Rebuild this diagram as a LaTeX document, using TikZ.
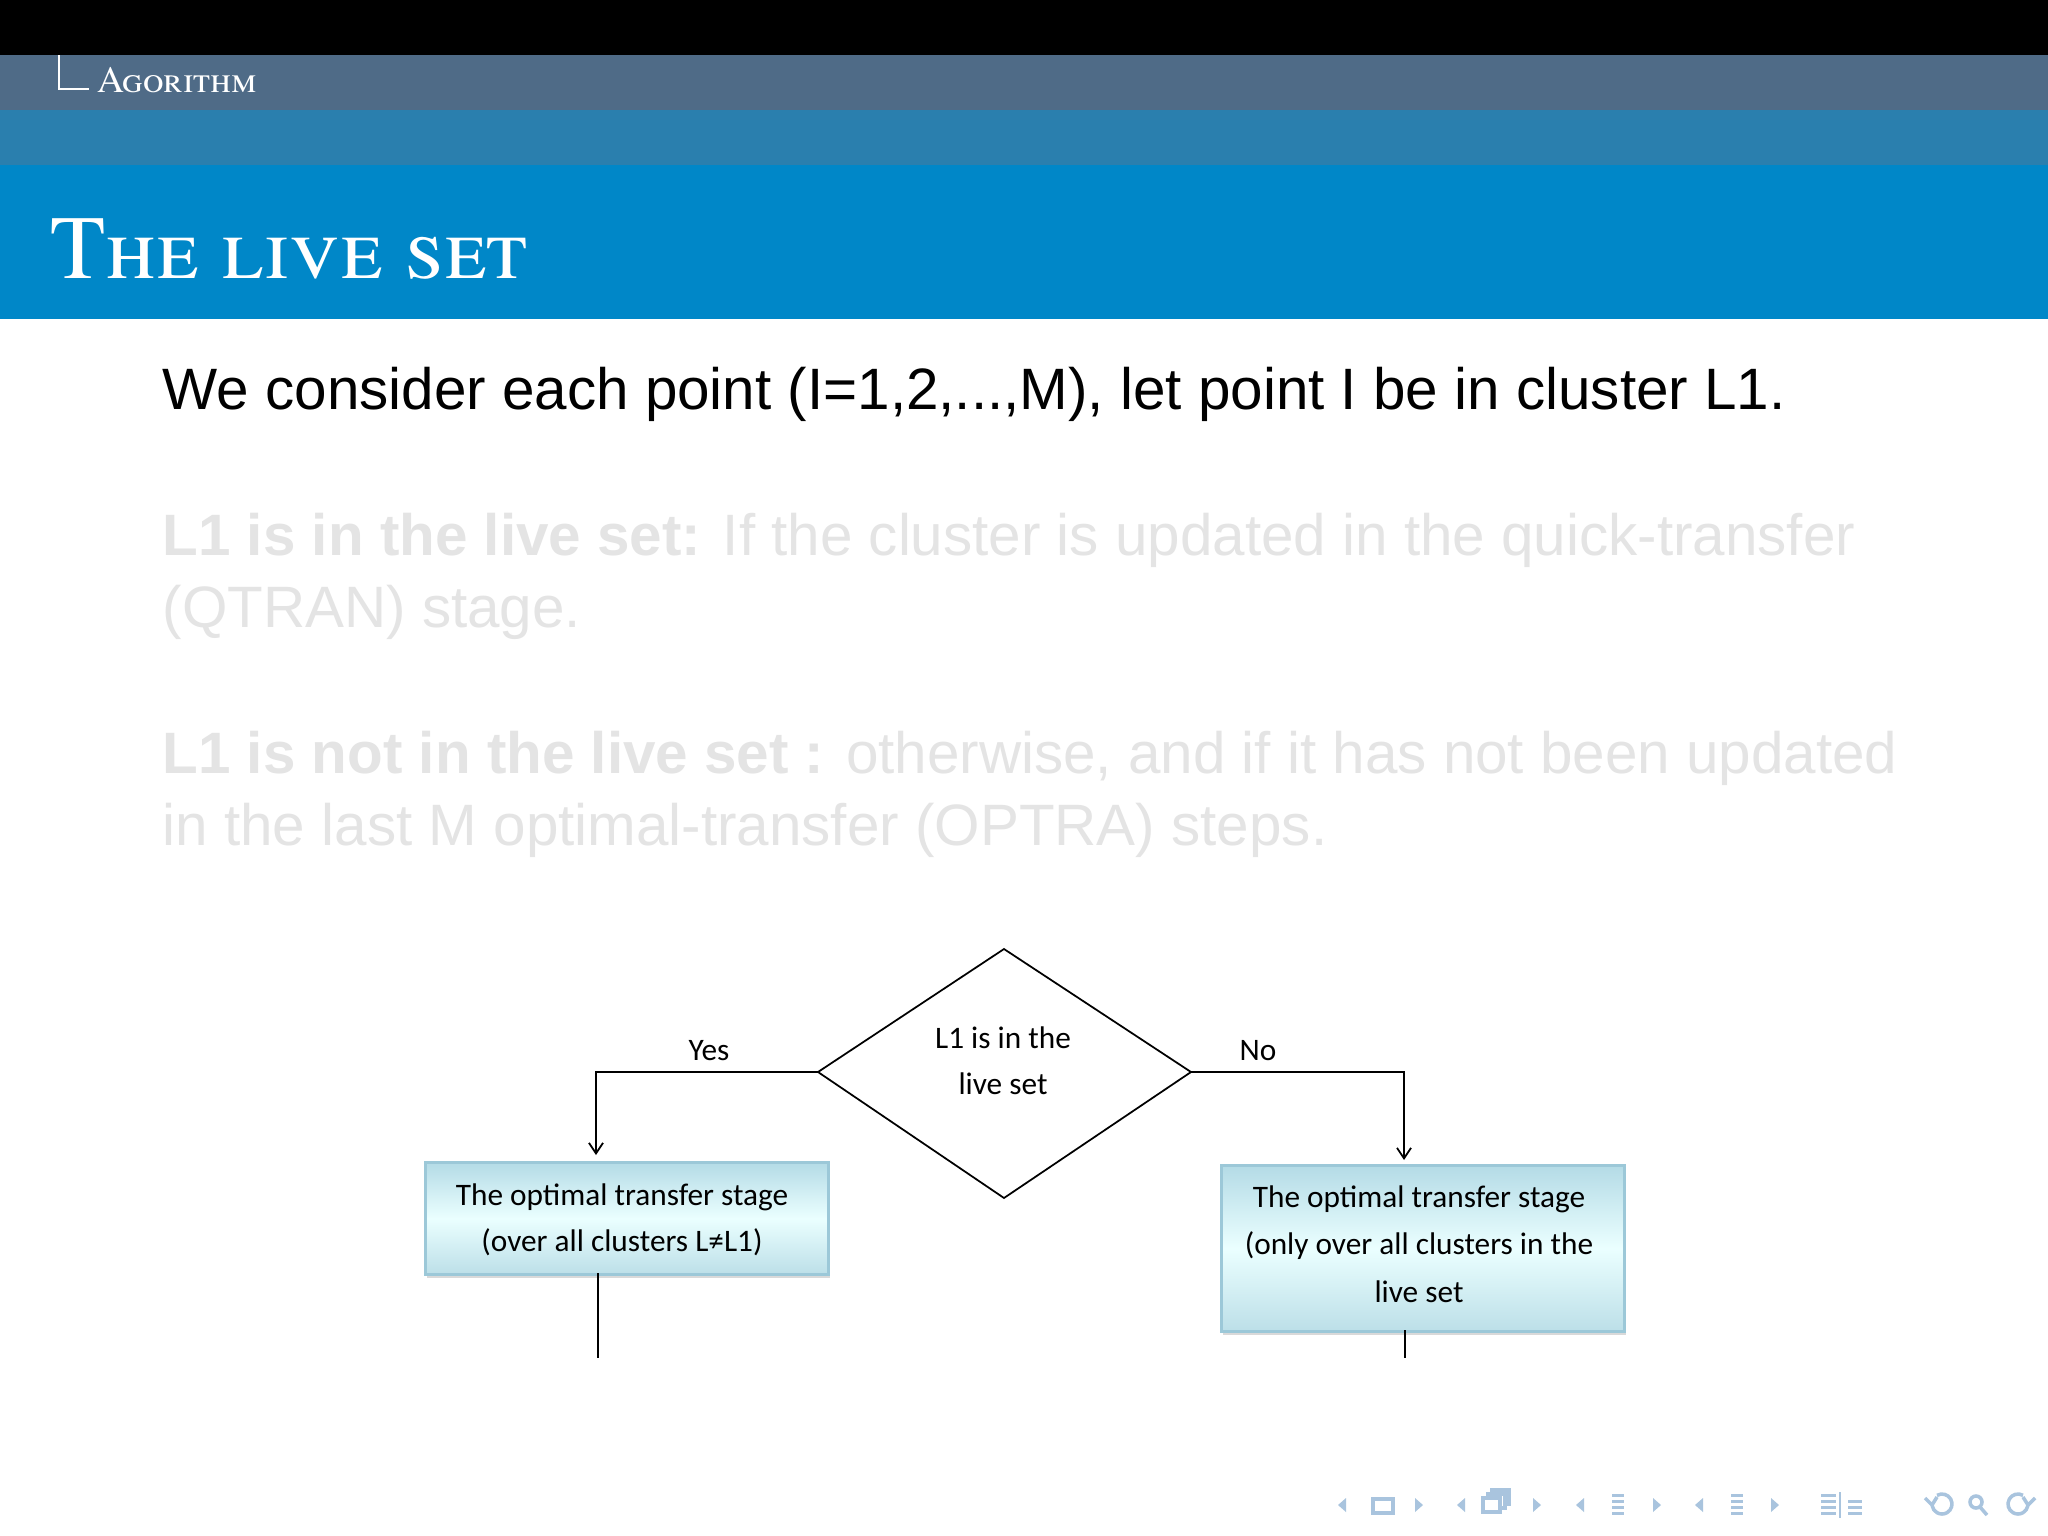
\documentclass[tikz,border=0pt]{standalone}
\usepackage{fontspec}
\setmainfont{TeX Gyre Termes}
\newfontfamily\bodyfont{Liberation Sans}
\newfontfamily\calib{Carlito}
\usetikzlibrary{shapes.geometric,arrows.meta}
\definecolor{barblack}{HTML}{000000}
\definecolor{bargray}{HTML}{4F6B87}
\definecolor{barmid}{HTML}{2A7FAE}
\definecolor{bartitle}{HTML}{0087C8}
\definecolor{fadetxt}{HTML}{E4E4E4}
\definecolor{navblue}{HTML}{A9C4DE}
\definecolor{boxtop}{HTML}{B4DBE6}
\definecolor{boxbot}{HTML}{BCDFE8}
\definecolor{boxedge}{HTML}{9CC8D8}
\tikzset{
  procbox/.style={draw=boxedge, line width=0.8pt, top color=boxtop, bottom color=boxbot, middle color=white!92!cyan},
  lbl/.style={font=\calib\fontsize{8.9}{12}\selectfont, inner sep=0},
  conn/.style={draw=black, line width=0.5pt},
  arr/.style={conn, -{Straight Barb[length=3pt,width=4pt]}},
  navi/.style={fill=navblue, draw=none},
  navline/.style={draw=navblue, line width=1pt, fill=none},
}
\begin{document}
\begin{tikzpicture}[x=0.01cm,y=-0.01cm]
\useasboundingbox (0,0) rectangle (2048,1536);
\fill[white] (0,0) rectangle (2048,1536);
\fill[barblack] (0,0) rectangle (2048,55);
\fill[bargray] (0,55) rectangle (2048,110);
\fill[barmid] (0,110) rectangle (2048,165);
\fill[bartitle] (0,165) rectangle (2048,319);
\draw[white, line width=0.6pt] (59,55) -- (59,89) -- (89,89);
\node[anchor=base west, text=white, inner sep=0, font=\fontsize{10.6}{12}\selectfont\scshape] (sec) at (97,92) {Agorithm};
\node[anchor=base west, text=white, inner sep=0, font=\fontsize{25.7}{28}\selectfont\scshape] (title) at (50,278) {The live set};
\node[anchor=base west, inner sep=0, font=\bodyfont\fontsize{16.6}{20}\selectfont] (l0) at (162,409) {We consider each point (I=1,2,...,M), let point I be in cluster L1.};
\node[anchor=base west, inner sep=0, text=fadetxt, font=\bodyfont\fontsize{16.6}{20}\selectfont] (l1) at (162,555) {\textbf{L1 is in the live set:} If the cluster is updated in the quick-transfer};
\node[anchor=base west, inner sep=0, text=fadetxt, font=\bodyfont\fontsize{16.6}{20}\selectfont] (l2) at (162,627) {(QTRAN) stage.};
\node[anchor=base west, inner sep=0, text=fadetxt, font=\bodyfont\fontsize{16.6}{20}\selectfont] (l3) at (162,773) {\textbf{L1 is not in the live set :} otherwise, and if it has not been updated};
\node[anchor=base west, inner sep=0, text=fadetxt, font=\bodyfont\fontsize{16.6}{20}\selectfont] (l4) at (162,845) {in the last M optimal-transfer (OPTRA) steps.};
% diamond
\coordinate (dt) at (1004,949);
\coordinate (dl) at (818,1072);
\coordinate (dr) at (1191,1072);
\coordinate (db) at (1004,1198);
\draw[conn] (dt) -- (dr) -- (db) -- (dl) -- cycle;
\node[lbl] (d1) at (1003,1038) {L1 is in the};
\node[lbl] (d2) at (1003,1084) {live set};
% boxes
\fill[gray!30] (427,1267) rectangle (830,1278);
\node[procbox, minimum width=403*0.01cm, minimum height=112*0.01cm, anchor=north west, inner sep=0] (bl) at (424,1161) {};
\fill[gray!30] (1223,1324) rectangle (1626,1335);
\node[procbox, minimum width=403*0.01cm, minimum height=166*0.01cm, anchor=north west, inner sep=0] (br) at (1220,1164) {};
\node[lbl] (bl1) at (622,1197) {The optimal transfer stage};
\node[lbl] (bl2) at (622,1242) {(over all clusters L≠L1)};
\node[lbl] (br1) at (1419,1199) {The optimal transfer stage};
\node[lbl] (br2) at (1419,1246) {(only over all clusters in the};
\node[lbl] (br3) at (1419,1292) {live set};
% connectors
\coordinate (yc) at (596,1072);
\coordinate (nc) at (1404,1072);
\draw[arr] (dl) -- (yc) -- (596,1155);
\draw[arr] (dr) -- (nc) -- (1404,1160);
\node[lbl] (yes) at (709,1051) {Yes};
\node[lbl] (no) at (1258,1051) {No};
\coordinate (le) at (598,1358);
\coordinate (re) at (1405,1358);
\draw[conn] (598,1273) -- (le);
\draw[conn] (1405,1330) -- (re);
% nav icons
\fill[navi] (1338,1505) -- (1346,1498) -- (1346,1512) -- cycle;
\fill[navi] (1423,1505) -- (1415,1498) -- (1415,1512) -- cycle;
\draw[navline] (1373,1499) rectangle (1393,1513);
\fill[navi] (1457,1505) -- (1465,1498) -- (1465,1512) -- cycle;
\draw[navline] (1492,1490) rectangle (1509,1504);
\filldraw[navline, fill=white] (1488,1494) rectangle (1505,1508);
\filldraw[navline, fill=white] (1483,1498) rectangle (1500,1512);
\fill[navi] (1541,1505) -- (1533,1498) -- (1533,1512) -- cycle;
\fill[navi] (1576,1505) -- (1584,1498) -- (1584,1512) -- cycle;
\foreach \yy in {1494,1500,1506,1512} \fill[navi] (1612,\yy) rectangle (1624,\yy+2.5);
\fill[navi] (1661,1505) -- (1653,1498) -- (1653,1512) -- cycle;
\fill[navi] (1695,1505) -- (1703,1498) -- (1703,1512) -- cycle;
\foreach \yy in {1494,1500,1506,1512} \fill[navi] (1731,\yy) rectangle (1743,\yy+2.5);
\fill[navi] (1779,1505) -- (1771,1498) -- (1771,1512) -- cycle;
\foreach \yy in {1494,1500,1506,1512} \fill[navi] (1821,\yy) rectangle (1836,\yy+2.5);
\draw[navblue, line width=0.6pt] (1840,1492) -- (1840,1518);
\foreach \yy in {1500,1506,1512} \fill[navi] (1848,\yy) rectangle (1862,\yy+2.5);
\draw[navline] (1942,1504) ++(-120:10) arc (-120:170:10);
\draw[navline] (1925,1498) -- (1932,1505) -- (1937,1497);
\draw[navline] (1976,1502) circle (6) (1980,1507) -- (1987,1515);
\draw[navline] (2018,1504) ++(-60:10) arc (-60:-350:10);
\draw[navline] (2035,1498) -- (2028,1505) -- (2023,1497);
\end{tikzpicture}
\end{document}
